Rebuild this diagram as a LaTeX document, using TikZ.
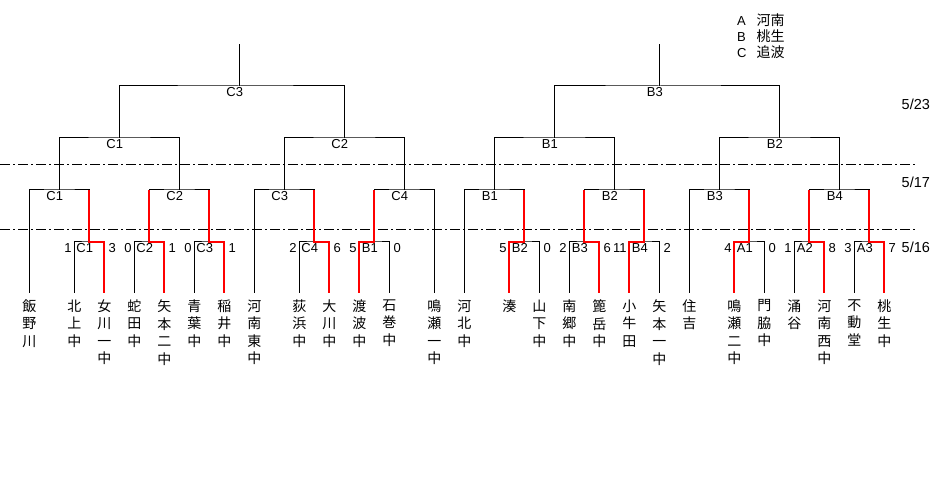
\documentclass[tikz,border=0pt]{standalone}
\usepackage{fontspec}
\setmainfont{Liberation Sans}
\newfontfamily\cjk{Noto Sans CJK JP}
\usetikzlibrary{calc}
\tikzset{
  br/.style={draw=black, line width=1pt},
  win/.style={draw=red, line width=2pt},
  sep/.style={draw=black, line width=1pt, dash pattern=on 10pt off 3pt on 2pt off 3pt},
  lab/.style={anchor=base, inner sep=0pt, font=\fontsize{13pt}{15pt}\selectfont},
  datelab/.style={anchor=base west, inner sep=0pt, font=\fontsize{14.5pt}{16pt}\selectfont},
  leaf/.style={anchor=north, align=center, inner xsep=0pt, inner ysep=6.5pt, font=\cjk\fontsize{14pt}{17.5pt}\selectfont},
  cjkt/.style={anchor=base west, inner sep=0pt, font=\cjk\fontsize{14pt}{16pt}\selectfont}
}
\newcommand{\bout}[6]{%
  \draw[br] (#2.north) |- (#1) -| (#3.north);
  \node[lab] (#1lab) at ($(#1)+(-4.5,10.7)$) {#4};
  \node[lab, anchor=base east] (#1sl) at ($(#2.north |- #1)+(-2.5,10.7)$) {#5};
  \node[lab, anchor=base west] (#1sr) at ($(#3.north |- #1)+(4,10.7)$) {#6};
}
\newcommand{\rnd}[4]{%
  \draw[br] (#2) |- (#1) -| (#3);
  \node[lab] (#1lab) at ($(#1)+(-4.5,10.7)$) {#4};
}
\begin{document}
\begin{tikzpicture}[x=1pt, y=-1pt]
\useasboundingbox (0,0) rectangle (946,494);
\fill[white] (0,0) rectangle (946,494);

% leaves
\foreach \xx/\tt [count=\i] in {
  29.3/{飯\\野\\川}, 74.3/{北\\上\\中}, 104.3/{女\\川\\一\\中}, 134.3/{蛇\\田\\中},
  164.3/{矢\\本\\二\\中}, 194.3/{青\\葉\\中}, 224.3/{稲\\井\\中}, 254.3/{河\\南\\東\\中},
  299.3/{荻\\浜\\中}, 329.3/{大\\川\\中}, 359.3/{渡\\波\\中}, 389.3/{石\\巻\\中},
  434.3/{鳴\\瀬\\一\\中}, 464.3/{河\\北\\中}, 509.3/{湊}, 539.3/{山\\下\\中},
  569.3/{南\\郷\\中}, 599.3/{篦\\岳\\中}, 629.3/{小\\牛\\田}, 659.3/{矢\\本\\一\\中},
  689.3/{住\\吉}, 734.3/{鳴\\瀬\\二\\中}, 764.3/{門\\脇\\中}, 794.3/{涌\\谷},
  824.3/{河\\南\\西\\中}, 854.3/{不\\動\\堂}, 884.3/{桃\\生\\中}}
  {\node[leaf] (L\i) at (\xx,293) {\tt};}

% junction points
\foreach \nm/\xx in {M1/89.3, M2/149.3, M3/209.3, M4/314.3, M5/374.3, M6/524.3,
  M7/584.3, M8/644.3, M9/749.3, M10/809.3, M11/869.3}
  {\coordinate (\nm) at (\xx,242);}
\foreach \nm/\xx in {T1/59.3, T2/179.3, T3/284.3, T4/404.3, T5/494.3, T6/614.3, T7/719.3, T8/839.3}
  {\coordinate (\nm) at (\xx,190);}
\foreach \nm/\xx in {S1/119.3, S2/344.3, S3/554.3, S4/779.3}
  {\coordinate (\nm) at (\xx,138);}
\coordinate (F1) at (239.3,86);
\coordinate (F2) at (659.3,86);
\coordinate (E1) at (239.3,44);
\coordinate (E2) at (659.3,44);

% separators
\coordinate (d1a) at (0,164.3);  \coordinate (d1b) at (915,164.3);
\coordinate (d2a) at (0,229.5);  \coordinate (d2b) at (915,229.5);
\draw[sep] (d1a) -- (d1b);
\draw[sep] (d2a) -- (d2b);

% first round (5/16)
\bout{M1}{L2}{L3}{C1}{1}{3}
\bout{M2}{L4}{L5}{C2}{0}{1}
\bout{M3}{L6}{L7}{C3}{0}{1}
\bout{M4}{L9}{L10}{C4}{2}{6}
\bout{M5}{L11}{L12}{B1}{5}{0}
\bout{M6}{L15}{L16}{B2}{5}{0}
\bout{M7}{L17}{L18}{B3}{2}{6}
\bout{M8}{L19}{L20}{B4}{11}{2}
\bout{M9}{L22}{L23}{A1}{4}{0}
\bout{M10}{L24}{L25}{A2}{1}{8}
\bout{M11}{L26}{L27}{A3}{3}{7}

% second round (5/17)
\rnd{T1}{L1.north}{M1}{C1}
\rnd{T2}{M2}{M3}{C2}
\rnd{T3}{L8.north}{M4}{C3}
\rnd{T4}{M5}{L13.north}{C4}
\rnd{T5}{L14.north}{M6}{B1}
\rnd{T6}{M7}{M8}{B2}
\rnd{T7}{L21.north}{M9}{B3}
\rnd{T8}{M10}{M11}{B4}

% later rounds
\rnd{S1}{T1}{T2}{C1}
\rnd{S2}{T3}{T4}{C2}
\rnd{S3}{T5}{T6}{B1}
\rnd{S4}{T7}{T8}{B2}
\rnd{F1}{S1}{S2}{C3}
\rnd{F2}{S3}{S4}{B3}
\draw[br] (F1) -- (E1);
\draw[br] (F2) -- (E2);

% winners
\draw[win] (L3.north) |- (M1) -- (M1 |- T1);
\draw[win] (L5.north) |- (M2) -- (M2 |- T2);
\draw[win] (L7.north) |- (M3) -- (M3 |- T2);
\draw[win] (L10.north) |- (M4) -- (M4 |- T3);
\draw[win] (L11.north) |- (M5) -- (M5 |- T4);
\draw[win] (L15.north) |- (M6) -- (M6 |- T5);
\draw[win] (L18.north) |- (M7) -- (M7 |- T6);
\draw[win] (L19.north) |- (M8) -- (M8 |- T6);
\draw[win] (L22.north) |- (M9) -- (M9 |- T7);
\draw[win] (L25.north) |- (M10) -- (M10 |- T8);
\draw[win] (L27.north) |- (M11) -- (M11 |- T8);

% dates
\node[datelab] (d523) at (901.5,110) {5/23};
\node[datelab] (d517) at (901.5,188) {5/17};
\node[datelab] (d516) at (901.5,253) {5/16};

% legend
\node[lab, anchor=base west] (kA) at (737,26) {A};
\node[cjkt] (kAt) at (756.5,26) {河南};
\node[lab, anchor=base west] (kB) at (737,41.7) {B};
\node[cjkt] (kBt) at (756.5,41.7) {桃生};
\node[lab, anchor=base west] (kC) at (737,57.5) {C};
\node[cjkt] (kCt) at (756.5,57.5) {追波};
\end{tikzpicture}
\end{document}
